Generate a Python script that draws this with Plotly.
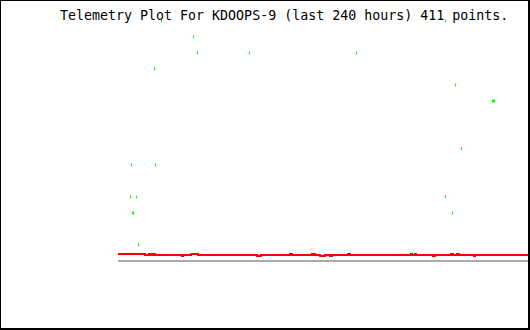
import plotly.graph_objects as go

# ---- data (hours since start of the 240-hour window) ----
title_text = "Telemetry Plot For KDOOPS-9 (last 240 hours) 411 points."

# green telemetry samples (hours, value level)
green_hours = [7.30, 7.88, 8.47, 9.05, 10.80, 11.97, 21.31, 21.90, 25.40,
               44.09, 46.42, 76.79, 139.27, 191.24, 191.24, 195.33, 197.08,
               200.58, 218.69, 219.27, 219.85]
green_values = [4, 6, 3, 3, 4, 1, 12, 6, 15,
                14, 13, 13, 13, 4, 15, 3, 11,
                7, 10, 10, 10]

# red telemetry series (step changes)
red_hours = [0.0, 15.77, 18.10, 19.27, 20.44, 21.61, 37.37, 37.96, 42.63, 46.72,
             81.17, 83.50, 100.44, 101.61, 113.28, 113.87, 114.45, 115.04,
             117.96, 120.88, 123.80, 124.96, 134.31, 135.47, 171.09, 171.68,
             173.43, 174.01, 183.94, 185.11, 194.45, 195.62, 197.96, 199.12,
             207.88, 208.47, 240.0]
red_values = [0.4375, 0.375, 0.4375, 0.375, 0.4375, 0.375, 0.3125, 0.375, 0.4375, 0.375,
              0.3125, 0.375, 0.4375, 0.375, 0.4375, 0.375, 0.4375, 0.375,
              0.3125, 0.375, 0.3125, 0.375, 0.4375, 0.375, 0.4375, 0.375,
              0.4375, 0.375, 0.3125, 0.375, 0.4375, 0.375, 0.4375, 0.375,
              0.3125, 0.375, 0.375]

# gray baseline series
gray_hours = [0.0, 240.0]
gray_values = [0, 0]

W, H = 530, 330
ML, MR = 118, 1

fig = go.Figure()
fig.add_trace(go.Scatter(x=gray_hours, y=gray_values, mode="lines",
                         line=dict(color="#aaaaaa", width=2), hoverinfo="skip"))
fig.add_trace(go.Scatter(x=red_hours, y=red_values, mode="lines",
                         line=dict(color="#ff0000", width=2, shape="hv"), hoverinfo="skip"))
fig.add_trace(go.Scatter(x=green_hours, y=green_values, mode="markers",
                         marker=dict(symbol="line-ns", size=2, color="#00ff00",
                                     line=dict(color="#00ff00", width=1)),
                         hoverinfo="skip"))

pw = W - ML - MR
def px2paper_x(X):
    return (X - ML) / pw
def px2paper_y(Y):
    return (H - Y) / H

shapes = [
    dict(type="line", xref="paper", yref="paper", x0=px2paper_x(0.5), x1=px2paper_x(0.5),
         y0=px2paper_y(0), y1=px2paper_y(330), line=dict(color="black", width=1)),
    dict(type="line", xref="paper", yref="paper", x0=px2paper_x(0), x1=px2paper_x(530),
         y0=px2paper_y(0.5), y1=px2paper_y(0.5), line=dict(color="black", width=1)),
    dict(type="line", xref="paper", yref="paper", x0=px2paper_x(529), x1=px2paper_x(529),
         y0=px2paper_y(0), y1=px2paper_y(330), line=dict(color="black", width=2)),
    dict(type="line", xref="paper", yref="paper", x0=px2paper_x(0), x1=px2paper_x(530),
         y0=px2paper_y(329), y1=px2paper_y(329), line=dict(color="black", width=2)),
]

fig.update_layout(
    width=W, height=H,
    margin=dict(l=ML, r=MR, t=0, b=0, pad=0),
    paper_bgcolor="white", plot_bgcolor="white",
    showlegend=False,
    xaxis=dict(range=[0, 240], visible=False, fixedrange=True),
    yaxis=dict(range=[-4.3125, 16.3125], visible=False, fixedrange=True),
    shapes=shapes,
    annotations=[dict(text=title_text, xref="paper", yref="paper",
                      x=px2paper_x(58), y=px2paper_y(6), xanchor="left", yanchor="top",
                      showarrow=False,
                      font=dict(family="DejaVu Sans Mono", size=13.3, color="black"))],
)

fig.write_html("out.html", config={"displayModeBar": False})
